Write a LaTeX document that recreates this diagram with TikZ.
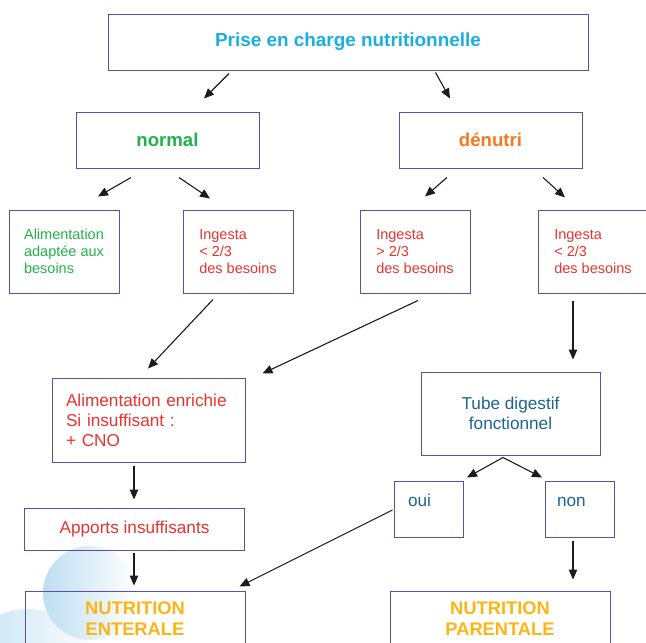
\documentclass[tikz,border=0pt]{standalone}
\usepackage{fontspec}
\setmainfont{Liberation Sans}
\usetikzlibrary{arrows.meta}
\definecolor{nutInk}{HTML}{1C1C1C}
\definecolor{nutFrame}{HTML}{5B4DB7}
\definecolor{nutCyan}{HTML}{1AAFE0}
\definecolor{nutGreen}{HTML}{22B24B}
\definecolor{nutOrange}{HTML}{F37A1F}
\definecolor{nutRed}{HTML}{E9332E}
\definecolor{nutTeal}{HTML}{1F6390}
\definecolor{nutGold}{HTML}{FDB515}
\definecolor{nutBubble}{HTML}{BEDFF2}
\tikzset{
  nut/base/.style={draw=nutFrame, line width=1pt, inner sep=0pt, align=center},
  nut/head/.style={nut/base, font=\fontsize{18.6}{22}\selectfont\bfseries,
    minimum height=56pt},
  nut/small/.style={nut/base, align=left, text=nutRed,
    font=\fontsize{14.5}{17.3}\selectfont, minimum width=110pt, minimum height=83pt},
  nut/text/.style={nut/base, font=\fontsize{17.2}{20}\selectfont},
  nut/choice/.style={nut/text, text=nutTeal, align=left, minimum width=69pt,
    minimum height=56pt, text height=12pt, text depth=18pt},
  nut/final/.style={nut/head, text=nutGold, minimum width=220pt,
    font=\fontsize{18.3}{21}\selectfont\bfseries},
  nut/arrow/.style={-{Triangle[length=10pt,width=8.5pt]}, draw=nutInk,
    line width=1.1pt},
}

\begin{document}
\begin{tikzpicture}[x=1pt, y=-1pt]
\useasboundingbox (0,0) rectangle (646,643);

% soft bubbles behind the bottom left box
\shade[left color=nutBubble, right color=white] (28,680) circle (71pt);
\shade[left color=nutBubble, right color=white] (90,593) circle (47pt);

\node[nut/head, text=nutCyan, minimum width=480pt,
  font=\fontsize{18.9}{22}\selectfont\bfseries] (prise) at (348,42)
  {Prise en charge nutritionnelle};
\node[nut/head, text=nutGreen, minimum width=183pt] (normal) at (167.5,140) {normal};
\node[nut/head, text=nutOrange, minimum width=183pt] (denutri) at (490.5,140) {dénutri};

\node[nut/small, text=nutGreen] (adapte) at (64,251.5) {Alimentation\\adaptée aux\\besoins};
\node[nut/small] (ingNormal) at (238,251.5) {Ingesta\\< 2/3\\des besoins};
\node[nut/small] (ingPlus) at (415,251.5) {Ingesta\\> 2/3\\des besoins};
\node[nut/small] (ingMoins) at (593,251.5) {Ingesta\\< 2/3\\des besoins};

\node[nut/text, text=nutRed, align=left, text width=165pt, minimum width=193pt,
  minimum height=84pt] (enrichie) at (148.5,420)
  {Alimentation enrichie\\Si insuffisant :\\+ CNO};
\node[nut/text, text=nutTeal, minimum width=179pt, minimum height=83pt] (tube)
  at (510.5,413.5) {Tube digestif\\fonctionnel};

\node[nut/text, text=nutRed, minimum width=220pt, minimum height=42pt] (apports)
  at (134.5,529) {Apports insuffisants};
\node[nut/choice, text width=41pt] (oui) at (428.5,509) {oui};
\node[nut/choice, text width=45pt] (non) at (579.5,509) {non};

\node[nut/final] (enterale) at (135,619) {NUTRITION\\ENTERALE};
\node[nut/final] (parentale) at (500,619) {NUTRITION\\PARENTALE};

\draw[nut/arrow] ([shift={(-119,3)}]prise.south) -- ([shift={(36.5,-13)}]normal.north);
\draw[nut/arrow] ([shift={(87.5,2)}]prise.south) -- ([shift={(-40.5,-13)}]denutri.north);
\draw[nut/arrow] ([shift={(-36.5,9)}]normal.south) -- ([shift={(34,-13)}]adapte.north);
\draw[nut/arrow] ([shift={(11.5,9)}]normal.south) -- ([shift={(-28,-11)}]ingNormal.north);
\draw[nut/arrow] ([shift={(-43.5,9)}]denutri.south) -- ([shift={(10,-13)}]ingPlus.north);
\draw[nut/arrow] ([shift={(52.5,9)}]denutri.south) -- ([shift={(-28,-12)}]ingMoins.north);
\draw[nut/arrow] ([shift={(-25,6)}]ingNormal.south) -- ([shift={(-0.5,-9)}]enrichie.north);
\draw[nut/arrow] ([shift={(3,7)}]ingPlus.south) -- ([shift={(17,-4)}]enrichie.north east);
\draw[nut/arrow] ([shift={(-20,7)}]ingMoins.south) -- ([shift={(62.5,-12)}]tube.north);
\draw[nut/arrow] ([shift={(-14.5,3)}]enrichie.south) -- ([shift={(-0.5,-8)}]apports.north);
\draw[nut/arrow] ([shift={(-0.5,2)}]apports.south) -- ([shift={(-1,-5)}]enterale.north);
\draw[nut/arrow] ([shift={(-7.5,2)}]tube.south) -- ([shift={(38.5,-3)}]oui.north);
\draw[nut/arrow] ([shift={(-7.5,2)}]tube.south) -- ([shift={(-37.5,-3)}]non.north);
\draw[nut/arrow] ([shift={(-1,1)}]oui.west) -- ([shift={(-6,-4)}]enterale.north east);
\draw[nut/arrow] ([shift={(-6.5,3)}]non.south) -- ([shift={(73,-11)}]parentale.north);
\end{tikzpicture}
\end{document}
